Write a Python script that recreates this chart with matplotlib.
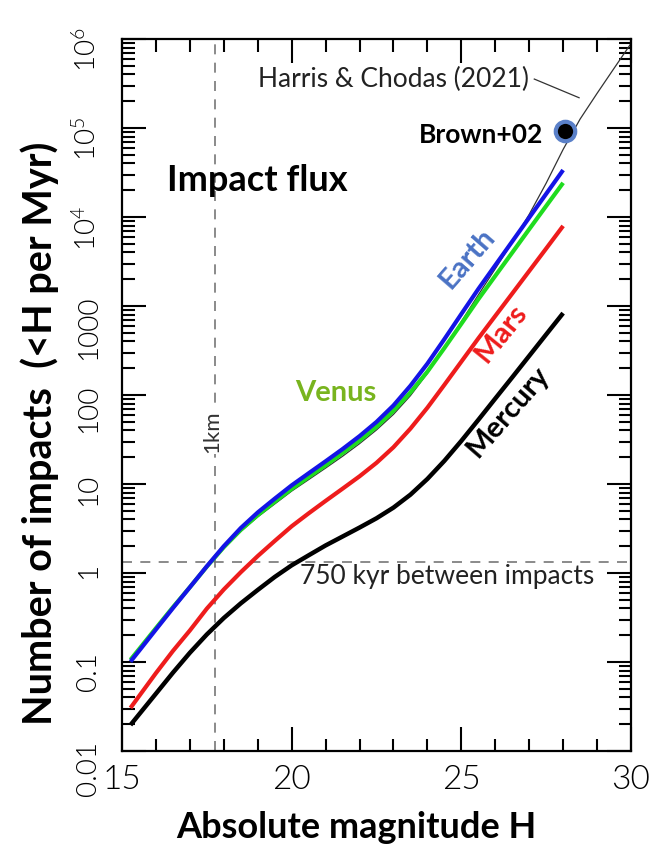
import matplotlib
matplotlib.use('Agg')
import matplotlib.pyplot as plt
from matplotlib.ticker import FixedLocator, FixedFormatter, LogLocator, NullFormatter

plt.rcParams['font.family'] = ['Lato', 'DejaVu Sans']
plt.rcParams['mathtext.fontset'] = 'custom'
plt.rcParams['mathtext.rm'] = 'Lato:weight=300'

# --- cumulative impact rates, N(<H) per Myr --- #
H = [15.25, 15.5, 16.0, 16.5, 17.0, 17.5, 18.0, 18.5, 19.0, 19.5, 20.0, 20.5, 21.0, 21.5,
     22.0, 22.5, 23.0, 23.5, 24.0, 24.5, 25.0, 25.5, 26.0, 26.5, 27.0, 27.5, 28.0]
earth = [0.101, 0.133, 0.232, 0.403, 0.692, 1.19, 2.00, 3.20, 4.79, 6.84, 9.66, 13.2, 18.0, 24.7,
         34.5, 49.8, 76.3, 127, 225, 424, 813, 1550, 2870, 5310, 9840, 18200, 33700]
venus = [0.106, 0.139, 0.240, 0.412, 0.692, 1.18, 1.95, 3.05, 4.47, 6.31, 8.81, 12.0, 16.2, 22.3,
         30.7, 43.9, 66.5, 107, 183, 337, 631, 1190, 2180, 3980, 7290, 13300, 24200]
mars = [0.0305, 0.0412, 0.0750, 0.133, 0.226, 0.398, 0.653, 1.02, 1.55, 2.29, 3.35, 4.68, 6.46, 8.86,
        12.2, 17.3, 25.9, 41.9, 72.0, 130, 237, 432, 773, 1380, 2470, 4420, 7940]
mercury = [0.0196, 0.0257, 0.0441, 0.0758, 0.127, 0.204, 0.312, 0.456, 0.645, 0.902, 1.22, 1.58, 2.04, 2.57,
           3.24, 4.12, 5.43, 7.59, 11.4, 18.2, 30.5, 52.5, 91.2, 158, 275, 479, 832]

# NEA population (Harris & Chodas 2021), scaled to Earth
H_hc = H + [28.5, 29.0, 29.5, 30.0]
harris_chodas = [0.100, 0.132, 0.229, 0.398, 0.676, 1.15, 1.90, 2.93, 4.27, 5.96, 8.32, 11.2, 15.1, 20.5,
                 28.4, 40.5, 60.6, 98.3, 175, 337, 668, 1330, 2620, 5190, 10700, 24000, 57500,
                 126000, 245000, 468000, 891000]

brown_H = 28.06
brown_N = 9.3e4

H_1km = 17.75
rate_750kyr = 1 / 0.75

y_ticks = [0.01, 0.1, 1, 10, 100, 1000, 1e4, 1e5, 1e6]
y_ticklabels = ['0.01', '0.1', '1', '10', '100', '1000',
                r'$\mathregular{10^{4}}$', r'$\mathregular{10^{5}}$', r'$\mathregular{10^{6}}$']
x_ticks = [15, 20, 25, 30]

fig = plt.figure(figsize=(6.68, 8.48), dpi=100)
ax = fig.add_axes([122 / 668, 1 - 751 / 848, 509 / 668, 712 / 848])
ax.set_yscale('log')
ax.set_xlim(15, 30)
ax.set_ylim(0.01, 1e6)

# reference lines
ax.axvline(H_1km, color='#777777', lw=1.2, ls=(0, (6, 5)), zorder=1)
ax.axhline(rate_750kyr, color='#777777', lw=1.2, ls=(0, (6, 5)), zorder=1)

ax.plot(H_hc, harris_chodas, color='#333333', lw=0.9, zorder=2)
ax.plot(H, mercury, color='black', lw=3.2, solid_capstyle='butt', zorder=3)
ax.plot(H, mars, color='#ee1c1c', lw=3.0, solid_capstyle='butt', zorder=3)
ax.plot(H, venus, color='#1fdc1f', lw=3.0, solid_capstyle='butt', zorder=3)
ax.plot(H, earth, color='#1414e6', lw=3.0, solid_capstyle='butt', zorder=4)

ax.plot([brown_H], [brown_N], 'o', ms=14, mfc='black', mec='#5a80c8', mew=3, zorder=5)

# text annotations
ax.text(16.33, 2.6e4, 'Impact flux', fontsize=26, fontweight='bold', ha='left', va='center')
ax.text(19.0, 10 ** 5.55, 'Harris & Chodas (2021)', fontsize=19, ha='left', va='center', color='#222222')
ax.plot([27.15, 28.47], [10 ** 5.55, 10 ** 5.34], color='#333333', lw=0.9)
ax.text(27.41, 10 ** 4.92, 'Brown+02', fontsize=19, fontweight='bold', ha='right', va='center')
ax.text(17.67, 38.7, '1km', fontsize=16, rotation=90, ha='center', va='center', color='#333333',
        bbox=dict(facecolor='white', edgecolor='none', pad=1), zorder=2)
ax.text(20.24, 0.91, '750 kyr between impacts', fontsize=19, ha='left', va='center', color='#222222')
ax.text(21.30, 10 ** 2.02, 'Venus', fontsize=21, fontweight='bold', color='#78b41e', ha='center', va='center')
ax.text(25.18, 10 ** 3.54, 'Earth', fontsize=21, fontweight='bold', color='#4a72c4', rotation=49,
        ha='center', va='center', rotation_mode='anchor')
ax.text(26.19, 10 ** 2.69, 'Mars', fontsize=21, fontweight='bold', color='#ee1c1c', rotation=51,
        ha='center', va='center', rotation_mode='anchor')
ax.text(26.38, 10 ** 1.81, 'Mercury', fontsize=21, fontweight='bold', color='black', rotation=49,
        ha='center', va='center', rotation_mode='anchor')

# axes styling
ax.xaxis.set_major_locator(FixedLocator(x_ticks))
ax.xaxis.set_minor_locator(FixedLocator(range(15, 31)))
ax.yaxis.set_major_locator(FixedLocator(y_ticks))
ax.yaxis.set_major_formatter(FixedFormatter(y_ticklabels))
ax.yaxis.set_minor_locator(LogLocator(base=10, subs=range(2, 10), numticks=20))
ax.yaxis.set_minor_formatter(NullFormatter())
ax.tick_params(which='both', direction='in', top=True, right=True, width=1.5)
ax.tick_params(which='major', length=17)
ax.tick_params(which='minor', length=9)
ax.tick_params(axis='y', which='major', labelrotation=90, labelsize=20, pad=15)
ax.tick_params(axis='x', which='major', labelsize=24, pad=10)
for lab in ax.get_xticklabels() + ax.get_yticklabels():
    lab.set_fontweight(300)
for spine in ax.spines.values():
    spine.set_linewidth(1.6)

fig.text(356 / 668, 1 - 828 / 848, 'Absolute magnitude H', fontsize=26, fontweight='bold',
         ha='center', va='center')
fig.text(40 / 668, 1 - 433 / 848, 'Number of impacts  (<H per Myr)', fontsize=28.5, fontweight='bold',
         rotation=90, ha='center', va='center')

fig.savefig('out.png', dpi=100)
